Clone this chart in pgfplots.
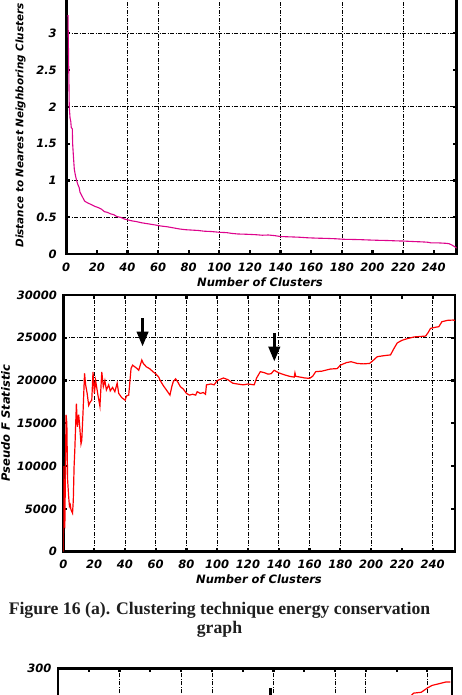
\documentclass[border=0pt]{standalone}
\usepackage{pgfplots}
\pgfplotsset{compat=1.18}
\usepackage{fontspec}
\newfontfamily\gfont{DejaVu Sans}
\newfontfamily\capfont{Liberation Serif}
\usetikzlibrary{arrows.meta}
\newcommand{\gf}{\gfont\bfseries\itshape\fontsize{11.5}{12}\selectfont}
\pgfplotsset{
  gstyle/.style={
    scale only axis,
    axis line style={line width=2.6pt},
    every tick/.style={black, line width=2.2pt},
    major tick length=4pt,
    tick align=inside,
    grid=none,
    grid style={black, line width=0.7pt, dash pattern=on 4pt off 1.5pt on 1pt off 1.5pt},
    /pgf/number format/assume math mode=true,
    /pgf/number format/1000 sep={},
    scaled y ticks=false,
    tick label style={font=\gf},
    xticklabel style={yshift=-5pt},
    extra x tick style={grid=major, major tick length=0pt},
    extra y tick style={grid=major, major tick length=0pt},
    extra x tick labels={},
    extra y tick labels={},
    clip=true,
  }
}
\begin{document}
\begin{tikzpicture}
\path[use as bounding box] (0pt,0pt) rectangle (461pt,695pt);
\clip (0pt,0pt) rectangle (461pt,695pt);

% ---------- top plot ----------
\begin{axis}[gstyle,
  at={(66.2pt,441pt)}, anchor=south west,
  width=390.5pt, height=257.5pt,
  xmin=0, xmax=255, ymin=0, ymax=3.5,
  xtick={0,20,...,240},
  ytick={0,0.5,...,3.5},
  yticklabels={0,0.5,1,1.5,2,2.5,3,},
  yticklabel style={xshift=-6pt},
  extra x ticks={40,60,100,140,180,220},
  extra y ticks={0.5,1,2,3},
]
\addplot[magenta!92!blue, line width=1.1pt] coordinates {
(0.8,3.24) (1.2,3.24) (1.3,3.05) (1.6,2.6) (2,2.0) (2.5,1.85) (3,1.8) (3.3,1.72) (4,1.7)
(4.2,1.5) (4.8,1.3) (5.3,1.15) (6,1.07) (6.8,1.0) (7.5,0.95) (8.5,0.9) (9,0.84) (10,0.80)
(11,0.76) (12,0.72) (13.5,0.70) (15,0.685) (17,0.665) (19,0.645) (21,0.63) (23,0.61)
(25,0.575) (27,0.565) (29,0.545) (31,0.535) (33,0.51) (36,0.495) (38,0.475) (40,0.465)
(43,0.45) (46,0.44) (49,0.425) (52,0.415) (55,0.405) (58,0.395) (62,0.38) (66,0.37)
(70,0.355) (74,0.34) (78,0.33) (82,0.325) (86,0.32) (90,0.31) (95,0.305) (100,0.295)
(105,0.29) (108,0.28) (112,0.272) (118,0.268) (124,0.262) (128,0.255) (132,0.258)
(136,0.25) (140,0.237) (146,0.233) (152,0.228) (158,0.22) (164,0.215) (170,0.212)
(176,0.207) (181,0.2) (186,0.198) (192,0.195) (198,0.19) (204,0.186) (210,0.183)
(216,0.178) (220,0.176) (224,0.172) (228,0.168) (232,0.165) (236,0.16) (238,0.152)
(244,0.15) (248,0.145) (250,0.14) (252,0.12) (254,0.095) (255,0.08)
};
\end{axis}
\node[font=\gfont\bfseries\itshape\fontsize{10.4}{11}\selectfont, rotate=90, anchor=west] at (20.5pt,444pt) {Distance to Nearest Neighboring Clusters};
\node[font=\gf] at (260pt,412.3pt) {Number of Clusters};

% ---------- middle plot ----------
\begin{axis}[gstyle,
  at={(63.3pt,143.3pt)}, anchor=south west,
  width=391.7pt, height=256.7pt,
  xmin=0, xmax=254.5, ymin=0, ymax=30000,
  xtick={0,20,...,240},
  ytick={0,5000,...,30000},
  yticklabel style={xshift=-3pt},
  extra x ticks={20,40,60,80,100,120,140,160,180,200,240},
  extra y ticks={20000,25000},
]
\addplot[red, line width=1.2pt] coordinates {
(0,0) (0.3,10000) (0.6,3000) (1,2900) (1.3,8000) (1.8,16000) (2.3,15000) (2.8,8400)
(3.5,6400) (4,5300) (4.5,5500) (5,4900) (6,4500) (6.5,6000) (7,9900) (7.5,12000)
(8.5,17300) (9.2,14600) (10,16000) (10.5,15000) (11.5,12600) (12,13000) (12.8,16200)
(13.8,20850) (14.5,19500) (15.5,18500) (16.5,17100) (17.5,17500) (18.5,17700) (19.3,21000)
(20.2,18500) (21,20000) (22.5,18300) (23.8,17000) (25,21000) (26,19300) (27,20000)
(28,18900) (29.5,19500) (30.5,18800) (32,19200) (33.5,18700) (35,19700) (36,18500)
(38,18000) (40.2,17700) (41,18200) (42.5,18300) (44,21400) (45,21800) (46.5,21600)
(48,21400) (49,21200) (50,21800) (51,22400) (52,22000) (54,21600) (56,21400) (58.5,21000)
(60,20800) (62,20400) (63,20000) (65,19400) (67,18900) (69.3,18300) (70.5,19300)
(71.5,19900) (73,20200) (74.5,19800) (76,19300) (78,19000) (80,18500) (82,18300)
(84,18400) (86,18300) (87,18700) (89,18500) (91,18600) (92.4,18400) (93,19500) (96,19600)
(98,19500) (100,20000) (102,20150) (104,20300) (107,20100) (110,19700) (113,19600)
(117,19500) (120,19600) (124,19500) (125.6,20300) (128,21040) (131,20900) (133,20750)
(135,20800) (137,21200) (140,20900) (144,20650) (147,20500) (150,20400) (150.5,20900)
(151,20500) (154,20400) (157,20300) (160,20260) (162,20500) (164,21040) (168,21100)
(173.6,21350) (178,21400) (180,21800) (184,22100) (187,22200) (191,22000) (195,21950)
(199,22000) (201,22300) (204,22790) (208,22900) (212.6,23000) (215,23800) (217,24400)
(220,24700) (223.5,24900) (228,25100) (235.4,25200) (237,25600) (238.6,26100) (241,26200)
(244,26300) (246,26880) (250,27050) (253.4,27070) (254.5,27000)
};
\draw[-{Triangle[width=11pt,length=15pt]}, line width=3.5pt] (axis cs:51.5,27310) -- (axis cs:51.5,23960);
\draw[-{Triangle[width=11pt,length=15pt]}, line width=3.5pt] (axis cs:137.1,25520) -- (axis cs:137.1,22200);
\end{axis}
\node[font=\gf, rotate=90] at (5.5pt,272pt) {Pseudo F Statistic};
\node[font=\gf] at (259pt,116pt) {Number of Clusters};

% ---------- caption ----------
\node[font=\capfont\bfseries\fontsize{17.7}{20}\selectfont, anchor=base, text=black!88] at (219.5pt,80pt) {Figure 16 (a). Clustering technique energy conservation};
\node[font=\capfont\bfseries\fontsize{17.7}{20}\selectfont, anchor=base, text=black!88] at (219.5pt,61pt) {graph};

% ---------- bottom plot (cut off by the page edge) ----------
\begin{axis}[gstyle,
  at={(58pt,26.7pt)}, anchor=north west,
  width=394pt, height=257pt,
  xmin=0, xmax=256, ymin=0, ymax=300,
  xtick={0,20,...,240},
  xticklabel pos=right,
  xticklabels={,,,,,,,,,,,,},
  ytick={300},
  yticklabel style={xshift=-3pt},
  extra x ticks={40,80,100,140,180,200,240},
]
\addplot[red, line width=1.2pt] coordinates {
(222,255) (226,262) (231,271) (236,272) (240,277) (243,280) (247.5,282) (252,284) (255,284)
};
\draw[-{Triangle[width=11pt,length=15pt]}, line width=3.5pt] (axis cs:138,277) -- (axis cs:138,235);
\end{axis}
\end{tikzpicture}
\end{document}
